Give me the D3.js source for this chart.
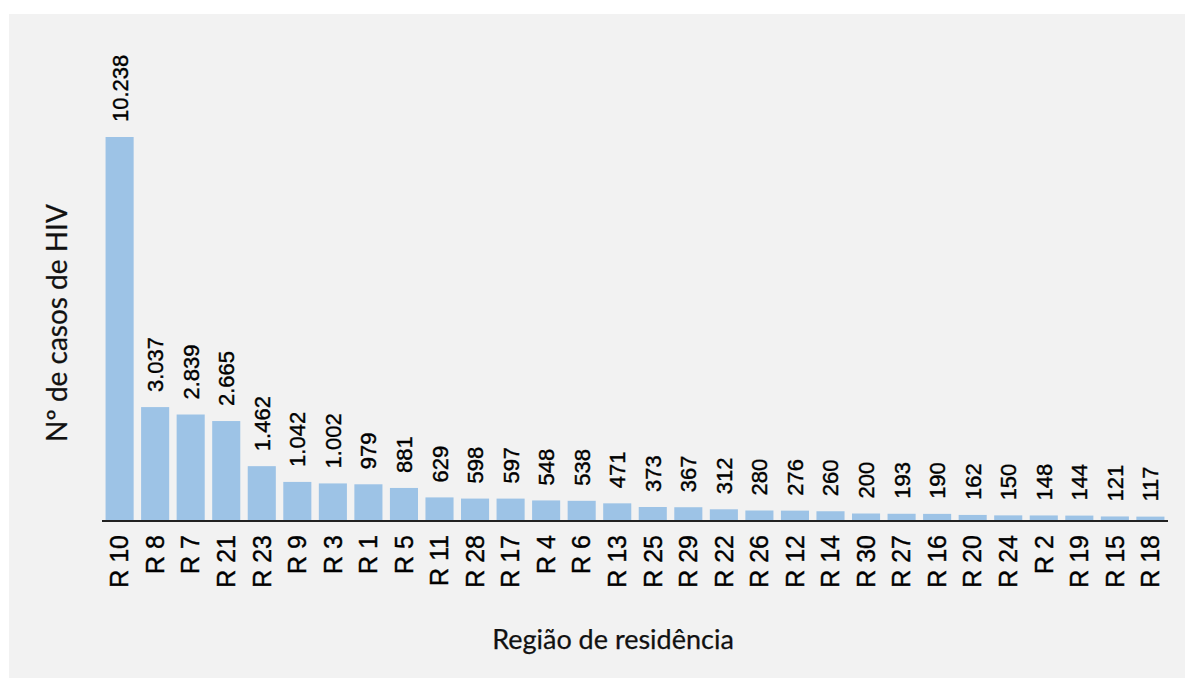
<!DOCTYPE html>
<html>
<head>
<meta charset="utf-8">
<script src="https://cdn.jsdelivr.net/npm/d3@7"></script>
<style>
body { margin: 0; background: #fff; }
</style>
</head>
<body>
<svg id="chart" width="1186" height="678"></svg>
<script>
var regions = ["R 10","R 8","R 7","R 21","R 23","R 9","R 3","R 1","R 5","R 11","R 28","R 17","R 4","R 6","R 13","R 25","R 29","R 22","R 26","R 12","R 14","R 30","R 27","R 16","R 20","R 24","R 2","R 19","R 15","R 18"];
var cases = [10238,3037,2839,2665,1462,1042,1002,979,881,629,598,597,548,538,471,373,367,312,280,276,260,200,193,190,162,150,148,144,121,117];
var xTitle = "Região de residência";
var yTitle = "Nº de casos de HIV";

var svg = d3.select("#chart");

svg.append("rect")
	.attr("x", 9).attr("y", 14)
	.attr("width", 1176).attr("height", 664)
	.attr("fill", "#f2f2f2");

var baseY = 521;
var xscale = d3.scaleBand()
	.domain(regions)
	.range([102, 1168])
	.paddingInner(0.21)
	.paddingOuter(0.1);

var yscale = d3.scaleLinear()
	.domain([0, 10238])
	.range([baseY, 137]);

var fmt = function(d){ return d3.format(",d")(d).replace(/,/g, "."); };

svg.selectAll("rect.bar")
	.data(cases)
	.enter().append("rect")
		.attr("class", "bar")
		.attr("x", function(d,i){ return xscale(regions[i]); })
		.attr("y", function(d){ return yscale(d); })
		.attr("width", xscale.bandwidth())
		.attr("height", function(d){ return baseY - yscale(d); })
		.attr("fill", "#9dc3e6");

// value labels
svg.selectAll("text.val")
	.data(cases)
	.enter().append("text")
		.attr("class", "val")
		.attr("transform", function(d,i){
			return "translate(" + (xscale(regions[i]) + xscale.bandwidth()/2 + 8) + "," + (yscale(d) - 15) + ") rotate(-90)";
		})
		.attr("font-family", "Liberation Sans, Arial, sans-serif")
		.attr("font-size", "22px")
		.attr("fill", "#000")
		.attr("stroke", "#000")
		.attr("stroke-width", 0.4)
		.text(fmt);

var xaxis = d3.axisBottom(xscale).tickSize(0).tickPadding(0);
var gx = svg.append("g")
	.attr("class", "x axis")
	.attr("transform", "translate(0," + baseY + ")")
	.call(xaxis);
gx.select(".domain")
	.attr("d", "M102,0H1168")
	.attr("stroke", "#222")
	.attr("stroke-width", 2);
gx.selectAll(".tick text")
	.attr("font-family", "Liberation Sans, Arial, sans-serif")
	.attr("font-size", "25px")
	.attr("fill", "#000")
	.attr("stroke", "#000")
	.attr("stroke-width", 0.4)
	.attr("text-anchor", "end")
	.attr("dy", "0.35em")
	.attr("transform", "translate(0,14) rotate(-90)")
	.attr("y", 0).attr("x", 0);

svg.append("text")
	.attr("x", 613).attr("y", 649)
	.attr("text-anchor", "middle")
	.attr("font-family", "Lato, sans-serif")
	.attr("font-size", "27px")
	.attr("fill", "#111")
	.attr("stroke", "#111")
	.attr("stroke-width", 0.25)
	.text(xTitle);

svg.append("text")
	.attr("transform", "translate(67,323) rotate(-90)")
	.attr("text-anchor", "middle")
	.attr("font-family", "Lato, sans-serif")
	.attr("font-size", "28px")
	.attr("fill", "#111")
	.attr("stroke", "#111")
	.attr("stroke-width", 0.25)
	.text(yTitle);
</script>
</body>
</html>
